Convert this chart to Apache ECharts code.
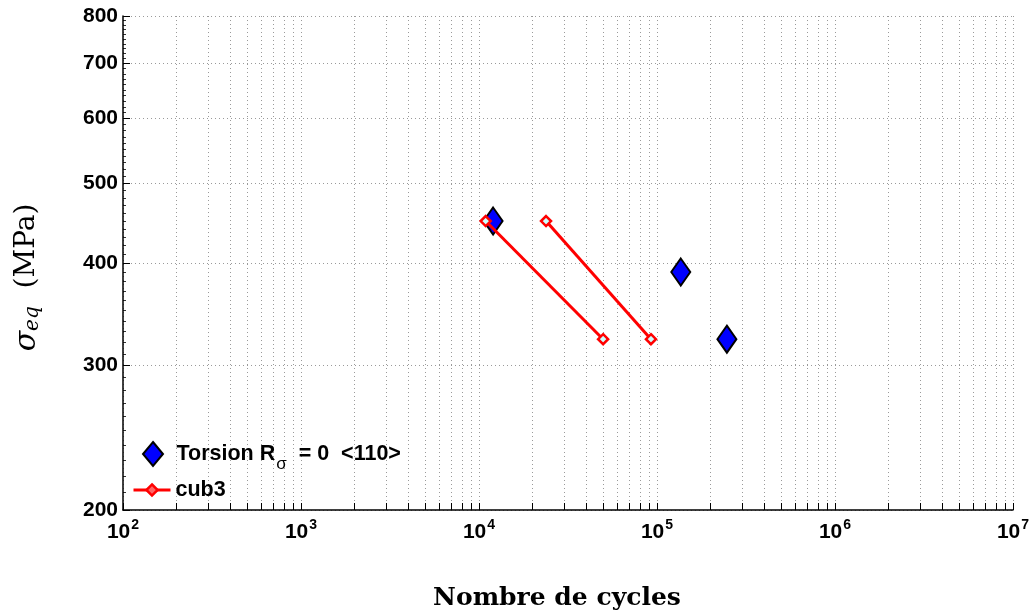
<!DOCTYPE html>
<html><head><meta charset="utf-8">
<script src="https://cdn.jsdelivr.net/npm/echarts@6/dist/echarts.min.js"></script>
<style>html,body{margin:0;padding:0;background:#fff}#c{width:1032px;height:613px}</style>
</head><body><div id="c"></div>
<script>
// Data
const torsionCycles = [12000, 136000, 247000];
const torsionStress = [450, 390, 323];
const cub3SegA = [[10900, 450], [49800, 323]];
const cub3SegB = [[23800, 450], [92500, 323]];
// Ticks
const xMajorTicks = [100, 1000, 10000, 100000, 1000000, 10000000];
const xMinorMultipliers = [1, 2, 3, 4, 5, 6, 7, 8, 9];
const yTicks = [200, 300, 400, 500, 600, 700, 800];

const xAllTicks = [];
xMajorTicks.forEach((m, i) => {
  if (i < xMajorTicks.length - 1) xMinorMultipliers.forEach(k => xAllTicks.push(m * k));
  else xAllTicks.push(m);
});
const yMinorTicks = [];
for (let v = 200; v <= 800; v += 10) yMinorTicks.push(v);

const chart = echarts.init(document.getElementById('c'));
const gridDot = { show: true, lineStyle: { color: '#9a9a9a', type: [1, 3], width: 1 } };
const lab = { fontFamily: 'Liberation Sans', fontWeight: 'bold', color: '#000' };
const legendRich = {
  b: Object.assign({ fontSize: 21.5 }, lab),
  sub: { fontFamily: 'Liberation Sans', fontSize: 17, color: '#000', verticalAlign: 'bottom', padding: [20, 0, 0, 1] }
};
chart.setOption({
  animation: false,
  backgroundColor: '#fff',
  grid: { left: 123, right: 19, top: 16, bottom: 103, outerBoundsMode: 'none', containLabel: false },
  legend: [{
    orient: 'vertical', left: 137, top: 436,
    itemWidth: 37, itemHeight: 24,
    data: [{ name: 'Torsion', icon: 'path://M0,-12L10,0L0,12L-10,0Z' }],
    formatter: () => '{b|Torsion R}{sub|σ}{b|  = 0  <110>}',
    textStyle: { rich: legendRich }
  }, {
    orient: 'vertical', left: 127, top: 474,
    itemWidth: 37, itemHeight: 14,
    data: ['cub3'],
    lineStyle: { width: 3, color: '#ff0000' },
    itemStyle: { color: '#ff6666', borderColor: '#ff0000', borderWidth: 2.5 },
    formatter: () => '{b|cub3}',
    textStyle: { rich: legendRich }
  }],
  xAxis: {
    type: 'log', logBase: 10, min: 100, max: 10000000,
    name: 'Nombre de cycles', nameLocation: 'middle', nameGap: 76,
    nameTextStyle: { fontFamily: 'DejaVu Serif', fontWeight: 'bold', fontSize: 25, color: '#000', padding: [0, 22, 0, 0] },
    axisLine: { show: true, lineStyle: { color: '#000', width: 1.5 } },
    axisTick: { show: true, inside: true, length: 7, customValues: xAllTicks, lineStyle: { color: '#000' } },
    axisLabel: {
      customValues: xMajorTicks, margin: 8, color: '#000',
      formatter: v => '{b|10}{sup|' + Math.round(Math.log10(v)) + '}',
      rich: {
        b: Object.assign({ fontSize: 21 }, lab),
        sup: Object.assign({ fontSize: 14, verticalAlign: 'top', padding: [0, 0, 14, 1] }, lab)
      }
    },
    splitLine: gridDot
  },
  yAxis: [{
    type: 'log', logBase: 10, min: 200, max: 800,
    name: '{s|σ}{sub|eq}{t|  (MPa)}', nameLocation: 'middle', nameGap: 80, nameRotate: 90,
    nameTextStyle: {
      padding: [0, 29, 0, 0],
      rich: {
        s: { fontFamily: 'DejaVu Serif', fontStyle: 'italic', fontSize: 30, color: '#000' },
        sub: { fontFamily: 'DejaVu Serif', fontStyle: 'italic', fontSize: 20, color: '#000', padding: [12, 0, 0, 0] },
        t: { fontFamily: 'DejaVu Serif', fontSize: 28, color: '#000' }
      }
    },
    axisLine: { show: true, lineStyle: { color: '#000', width: 1.5 } },
    axisTick: { show: true, inside: true, length: 7, customValues: yTicks, lineStyle: { color: '#000' } },
    axisLabel: Object.assign({ customValues: yTicks, margin: 5, fontSize: 21 }, lab),
    splitLine: gridDot
  }, {
    type: 'log', logBase: 10, min: 200, max: 800, position: 'left',
    axisLine: { show: false },
    axisTick: { show: true, inside: true, length: 3, customValues: yMinorTicks, lineStyle: { color: '#000', width: 0.8 } },
    axisLabel: { show: false },
    splitLine: { show: false }
  }],
  series: [
    {
      name: 'Torsion', type: 'scatter',
      data: torsionCycles.map((c, i) => [c, torsionStress[i]]),
      symbol: 'diamond', symbolSize: [19, 27],
      itemStyle: { color: '#0000ff', borderColor: '#000', borderWidth: 2, opacity: 1 }, z: 2
    },
    {
      name: 'cub3', type: 'line', data: cub3SegA,
      symbol: 'diamond', symbolSize: 10, showAllSymbol: true,
      lineStyle: { color: '#ff0000', width: 3 },
      itemStyle: { color: '#ccffff', borderColor: '#ff0000', borderWidth: 2.5 }, z: 3
    },
    {
      name: 'cub3', type: 'line', data: cub3SegB,
      symbol: 'diamond', symbolSize: 10, showAllSymbol: true,
      lineStyle: { color: '#ff0000', width: 3 },
      itemStyle: { color: '#ccffff', borderColor: '#ff0000', borderWidth: 2.5 }, z: 3
    }
  ]
});
</script></body></html>
